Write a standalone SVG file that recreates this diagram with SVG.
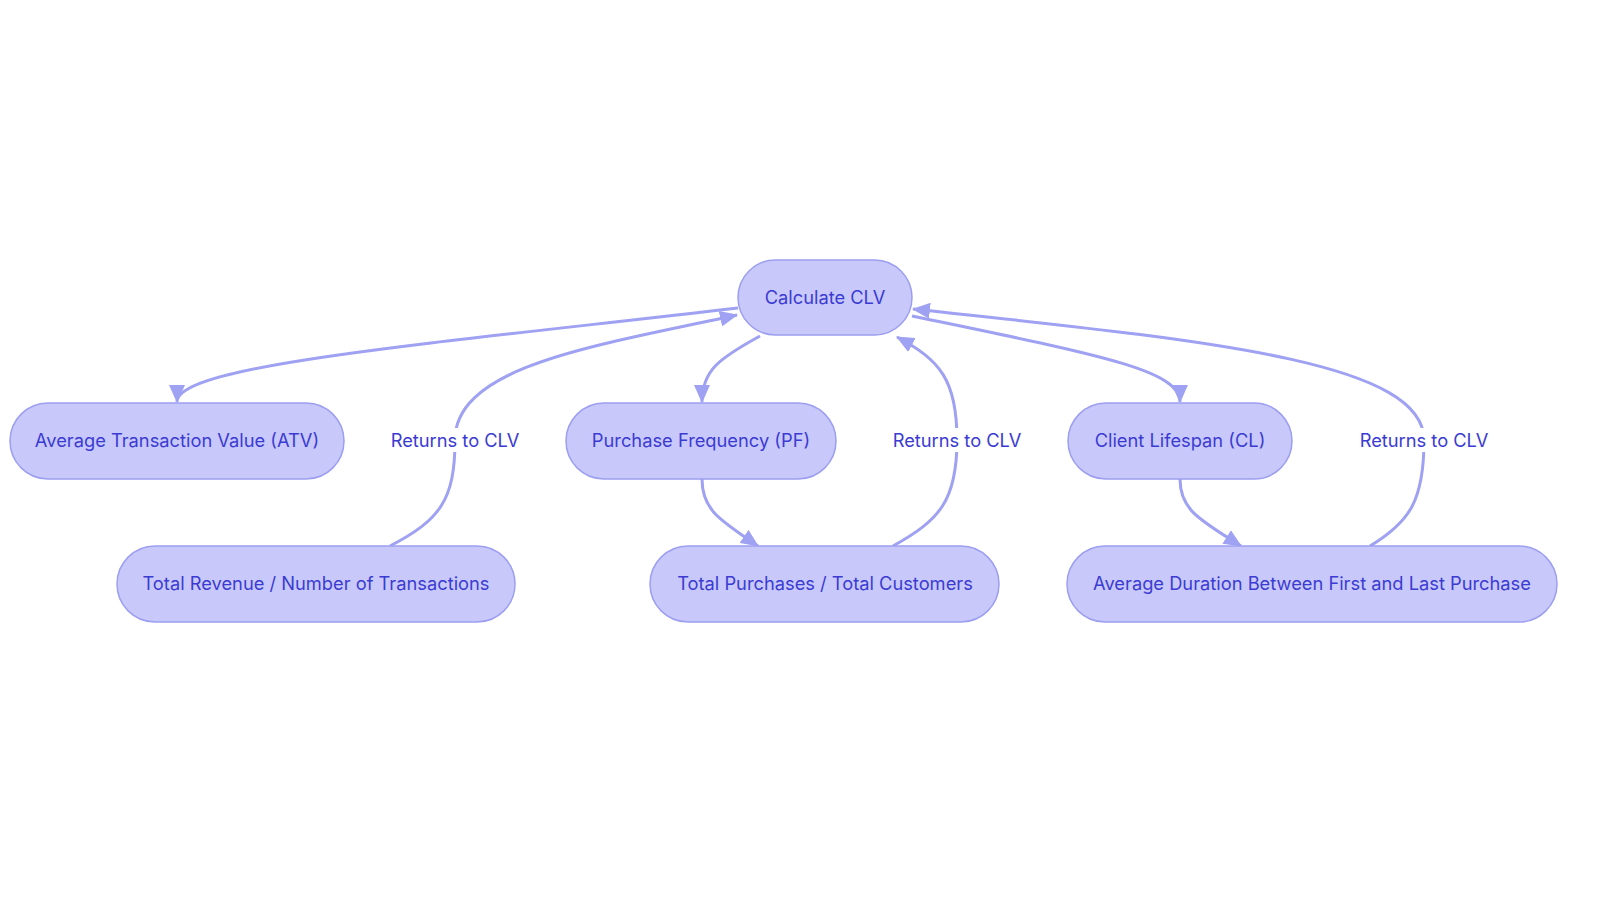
<svg xmlns="http://www.w3.org/2000/svg" width="1600" height="903" viewBox="0 0 1600 903">
<style>
.n{fill:#c8c9fa;stroke:#9c9ef0;stroke-width:1.5}
.t{font-family:Inter,"Liberation Sans",sans-serif;font-size:18.3px;fill:#3b3bd3;text-anchor:middle;dominant-baseline:central}
.e{fill:none;stroke:#9fa1f2;stroke-width:3}
.lb{fill:#fff}
</style>
<defs><marker id="a" viewBox="0 0 18 16" refX="17" refY="8" markerWidth="18" markerHeight="16" markerUnits="userSpaceOnUse" orient="auto"><path d="M0,0L18,8L0,16z" fill="#9fa1f2"/></marker></defs>
<rect width="1600" height="903" fill="#fff"/>
<g id="edges">
<path class="e" marker-end="url(#a)" d="M738,308 C420,345 177,365 177,402"/>
<path class="e" marker-end="url(#a)" d="M390,546 C440,520 455,500 455,440 C455,365 600,345 737,315"/>
<path class="e" marker-end="url(#a)" d="M760,336 C720,358 702,370 702,402"/>
<path class="e" marker-end="url(#a)" d="M702,479 C702,510 720,520 758,546"/>
<path class="e" marker-end="url(#a)" d="M893,546 C940,520 957,500 957,440 C957,380 940,360 897,337"/>
<path class="e" marker-end="url(#a)" d="M912,316 C1100,355 1180,370 1180,402"/>
<path class="e" marker-end="url(#a)" d="M1180,479 C1180,510 1200,520 1241,546"/>
<path class="e" marker-end="url(#a)" d="M1370,546 C1410,522 1424,500 1424,440 C1424,360 1200,340 913,309"/>
<rect class="lb" x="388" y="428" width="135" height="24"/><text class="t" x="455" y="440">Returns to CLV</text>
<rect class="lb" x="890" y="428" width="135" height="24"/><text class="t" x="957" y="440">Returns to CLV</text>
<rect class="lb" x="1357" y="428" width="135" height="24"/><text class="t" x="1424" y="440">Returns to CLV</text>
</g>
<g id="clv"><rect class="n" x="738" y="260" width="174" height="75" rx="37.5"/><text class="t" x="825" y="297">Calculate CLV</text></g>
<g id="atv"><rect class="n" x="10" y="403" width="334" height="76" rx="38"/><text class="t" x="177" y="440">Average Transaction Value (ATV)</text></g>
<g id="tr"><rect class="n" x="117" y="546" width="398" height="76" rx="38"/><text class="t" x="316" y="583">Total Revenue / Number of Transactions</text></g>
<g id="pf"><rect class="n" x="566" y="403" width="270" height="76" rx="38"/><text class="t" x="701" y="440">Purchase Frequency (PF)</text></g>
<g id="tp"><rect class="n" x="650" y="546" width="349" height="76" rx="38"/><text class="t" x="825" y="583">Total Purchases / Total Customers</text></g>
<g id="cl"><rect class="n" x="1068" y="403" width="224" height="76" rx="38"/><text class="t" x="1180" y="440">Client Lifespan (CL)</text></g>
<g id="ad"><rect class="n" x="1067" y="546" width="490" height="76" rx="38"/><text class="t" x="1312" y="583">Average Duration Between First and Last Purchase</text></g>
</svg>
